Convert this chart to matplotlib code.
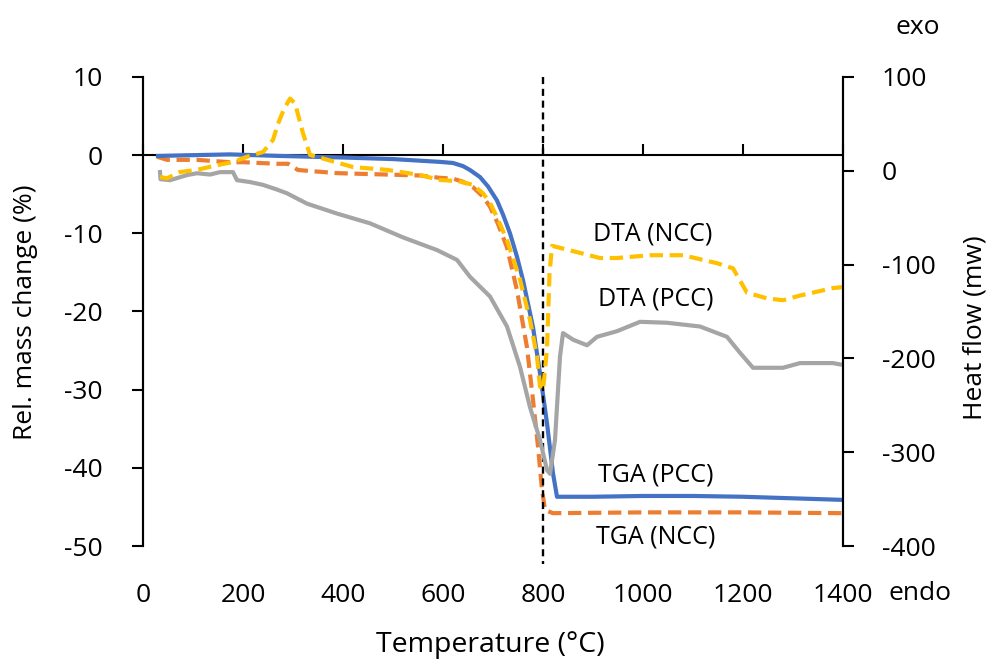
import matplotlib.pyplot as plt

plt.rcParams['font.family'] = ['Open Sans', 'DejaVu Sans']
plt.rcParams['axes.unicode_minus'] = False

# TGA (left axis, %)
tga_pcc_x = [30, 100, 174, 274, 400, 500, 594, 620, 640, 654, 674, 690, 708, 720, 734, 748,
             760, 770, 780, 794, 808, 820, 828, 900, 1000, 1100, 1200, 1300, 1400]
tga_pcc_y = [-0.1, 0.0, 0.1, -0.1, -0.3, -0.5, -0.86, -1.0, -1.4, -1.9, -2.8, -4.0, -5.8, -7.6, -10, -13,
             -16, -19, -22, -27.9, -34.3, -40.7, -43.7, -43.7, -43.6, -43.6, -43.7, -43.9, -44.1]

tga_ncc_x = [28, 48, 108, 174, 200, 268, 290, 310, 388, 554, 594, 620, 640, 660, 680, 694, 710,
             728, 748, 768, 780, 790, 798, 804, 820, 1000, 1200, 1400]
tga_ncc_y = [-0.2, -0.6, -0.6, -0.9, -0.9, -1.1, -1.1, -1.9, -2.3, -2.6, -2.9, -3.0, -3.4, -4.1, -5.3, -6.6, -8.8,
             -11.8, -17.3, -24.6, -31.3, -37.3, -42.8, -45.4, -45.8, -45.7, -45.7, -45.8]

# DTA (right axis, mw)
dta_ncc_x = [34, 48, 74, 108, 148, 180, 208, 240, 260, 270, 282, 294, 304, 320, 334, 354,
             420, 488, 554, 594, 630, 660, 680, 694, 710, 728, 754, 774, 788, 794, 800, 808, 813, 818,
             848, 914, 948, 1014, 1080, 1148, 1180, 1208, 1248, 1280, 1314, 1380, 1400]
dta_ncc_y = [-6.6, -8, -1.3, 1, 6, 9.4, 15, 20, 33, 50, 66, 77, 72, 40, 17, 14,
             4, 1, -4.5, -9.8, -11, -15, -24, -34, -52, -74, -116, -159, -198, -230, -234, -190, -110, -80,
             -84, -93, -93, -90, -90, -98.5, -104, -130, -136, -138, -133, -125, -124]

dta_pcc_x = [34, 35, 54, 88, 108, 134, 154, 180, 188, 214, 240, 268, 288, 328, 388, 454,
             520, 588, 628, 654, 694, 728, 754, 774, 794, 808, 814, 824, 834, 840, 860,
             888, 908, 948, 994, 1048, 1114, 1168, 1194, 1220, 1280, 1314, 1380, 1400]
dta_pcc_y = [-1.3, -9, -10, -4.6, -2.6, -4, -1.4, -1.4, -10, -12, -15, -20, -24, -35, -45.6, -56,
             -71, -84.5, -95, -113, -134, -166, -209, -252, -287, -319, -323, -287, -198, -173, -180,
             -186, -177, -171, -161, -162, -166, -177, -194, -210, -210, -205, -205, -207]

x_ticks = [0, 200, 400, 600, 800, 1000, 1200, 1400]
left_ticks = [-50, -40, -30, -20, -10, 0, 10]
right_ticks = [-400, -300, -200, -100, 0, 100]

fig = plt.figure(figsize=(9.88, 6.6), dpi=100)
ax = fig.add_axes([143 / 988, 1 - 546 / 660, 700 / 988, 469 / 660])
ax2 = ax.twinx()

ax.plot(tga_ncc_x, tga_ncc_y, color='#ED7D31', lw=3, dashes=(3.2, 1.6))
ax.plot(tga_pcc_x, tga_pcc_y, color='#4472C4', lw=3)
ax2.plot(dta_pcc_x, dta_pcc_y, color='#A5A5A5', lw=3)
ax2.plot(dta_ncc_x, dta_ncc_y, color='#FFC000', lw=3, dashes=(3.2, 1.6))

ax.set_xlim(0, 1400)
ax.set_ylim(-50, 10)
ax2.set_ylim(-400, 100)

# x axis line crosses at y = 0
ax.axhline(0, color='black', lw=1.5, zorder=1)
sec = ax.secondary_xaxis(50 / 60)
sec.set_xticks(x_ticks)
sec.tick_params(axis='x', direction='out', length=8, width=1.5, labelbottom=False, labeltop=False)
sec.spines['bottom'].set_visible(False)
sec.spines['top'].set_visible(False)

# dashed line at 800 °C
ax.plot([800, 800], [10, -52.3], color='black', lw=1.7, dashes=(3, 2), clip_on=False, zorder=5)

for a in (ax, ax2):
    a.spines['top'].set_visible(False)
    a.spines['bottom'].set_visible(False)
    a.spines['left'].set_linewidth(1.5)
    a.spines['right'].set_linewidth(1.5)

ax.set_xticks(x_ticks)
ax.tick_params(axis='x', length=0, pad=27, labelsize=19)
ax.set_yticks(left_ticks)
ax.tick_params(axis='y', direction='out', length=8, width=1.5, pad=21, labelsize=19)
ax2.set_yticks(right_ticks)
ax2.tick_params(axis='y', direction='out', length=8, width=1.5, pad=20, labelsize=19)

ax.text(1020, -10.1, 'DTA (NCC)', ha='center', va='center', fontsize=18)
ax.text(1026, -18.4, 'DTA (PCC)', ha='center', va='center', fontsize=18)
ax.text(1026, -40.9, 'TGA (PCC)', ha='center', va='center', fontsize=18)
ax.text(1026, -48.8, 'TGA (NCC)', ha='center', va='center', fontsize=18)

fig.text(25 / 988, 1 - 312 / 660, 'Rel. mass change (%)', rotation=90,
         ha='center', va='center', fontsize=19)
fig.text(975 / 988, 1 - 328 / 660, 'Heat flow (mw)', rotation=90,
         ha='center', va='center', fontsize=19)
fig.text(490 / 988, 1 - 645 / 660, 'Temperature (°C)', ha='center', va='center', fontsize=20.5)
fig.text(918 / 988, 1 - 27 / 660, 'exo', ha='center', va='center', fontsize=19)
fig.text(920 / 988, 1 - 593 / 660, 'endo', ha='center', va='center', fontsize=19)

fig.savefig('out.png', dpi=100)
